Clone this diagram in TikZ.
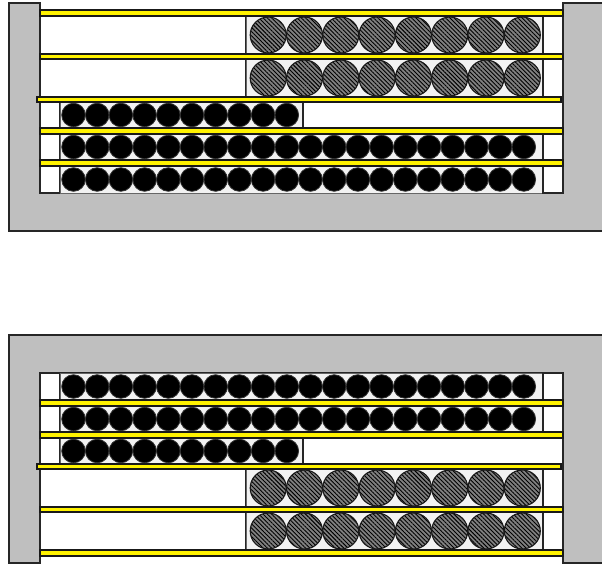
\documentclass[tikz,border=0pt]{standalone}
\usetikzlibrary{patterns.meta}

% one rack, drawn with its open side up
\newcommand{\rack}{%
  \draw[frame] (9,3) -- (40,3) -- (40,193) -- (563,193) -- (563,3) -- (606,3)
    -- (606,231) -- (9,231) -- cycle;
  % rows of hatched balls
  \foreach \ya/\yb in {16/54, 59/97} {
    \draw[box] (40,\ya) rectangle (246,\yb);
    \draw[tray] (246,\ya) rectangle (543,\yb);
    \draw[box] (543,\ya) rectangle (563,\yb);
    \foreach \i in {0,...,7}
      \draw[hball] ({268.2+36.3*\i},{(\ya+\yb)/2}) circle (18);
  }
  % half row of black balls
  \draw[box] (40,102) rectangle (60,128);
  \draw[tray] (60,102) rectangle (303,128);
  \draw[box] (303,102) rectangle (563,128);
  \foreach \i in {0,...,9}
    \draw[ball] ({73.5+23.7*\i},115) circle (11.8);
  % full rows of black balls
  \foreach \ya/\yb in {134/160, 166/193} {
    \draw[box] (40,\ya) rectangle (60,\yb);
    \draw[tray] (60,\ya) rectangle (543,\yb);
    \draw[box] (543,\ya) rectangle (563,\yb);
    \foreach \i in {0,...,19}
      \draw[ball] ({73.5+23.7*\i},{(\ya+\yb)/2}) circle (11.8);
  }
  % yellow separators
  \draw[bar] (40,10) rectangle (563,16);
  \draw[bar] (40,54) rectangle (563,59);
  \draw[bar] (37,97) rectangle (561,102);
  \draw[bar] (40,128) rectangle (563,134);
  \draw[bar] (40,160) rectangle (563,166);
}

\begin{document}
\begin{tikzpicture}[x=1pt, y=-1pt,
  frame/.style={fill=gray!50, draw=black!85, line width=1.3pt},
  box/.style={fill=white, draw=black!85, line width=1.1pt},
  tray/.style={fill=gray!10, draw=black!60, line width=0.8pt},
  ball/.style={fill=black, draw=black!80, line width=0.8pt},
  hball/.style={preaction={fill=gray}, draw=black!90, line width=1.1pt,
    pattern={Lines[angle=-45, distance=3pt, line width=0.9pt]}},
  bar/.style={fill=yellow, draw=black!90, line width=1.6pt}]
  \useasboundingbox (0,0) rectangle (602,565);
  \fill[white] (0,0) rectangle (602,565);

  \rack

  \begin{scope}[cm={1,0,0,-1,(0pt,-566pt)}]
    \rack
  \end{scope}
\end{tikzpicture}
\end{document}
